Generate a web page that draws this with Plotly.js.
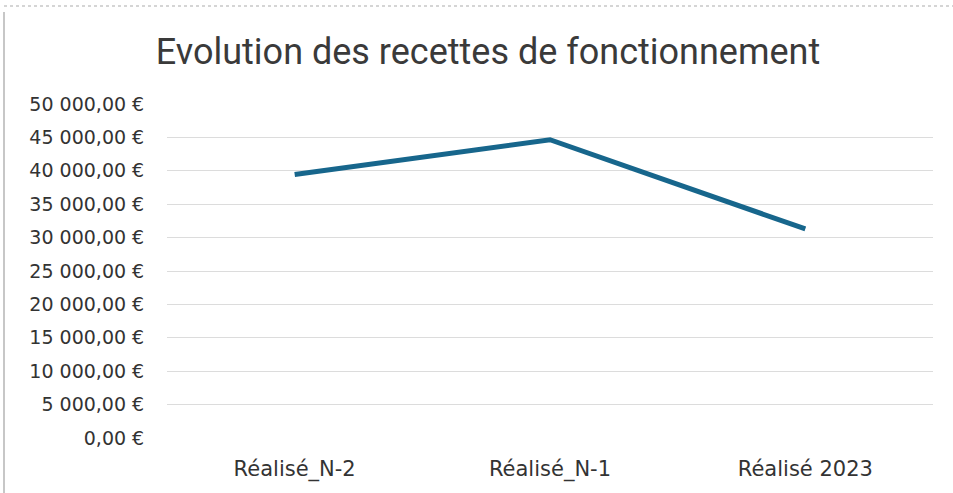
<!DOCTYPE html>
<html>
<head>
<meta charset="utf-8">
<script src="https://cdn.plot.ly/plotly-3.0.1.min.js"></script>
<style>html,body{margin:0;padding:0;background:#fff;}#chart{width:953px;height:493px;}</style>
</head>
<body>
<div id="chart"></div>
<script>
const categories = ["Réalisé_N-2", "Réalisé_N-1", "Réalisé 2023"];
const recettes = [39450, 44650, 31300];
const yTicks = [0, 5000, 10000, 15000, 20000, 25000, 30000, 35000, 40000, 45000, 50000];

function euro(v) {
  const s = String(Math.round(v)).replace(/\B(?=(\d{3})+(?!\d))/g, " ");
  return s + ",00 \u20AC";
}
const yTickText = yTicks.map(euro);

const trace = {
  x: categories,
  y: recettes,
  type: "scatter",
  mode: "lines",
  line: {color: "#17668c", width: 5},
  hoverinfo: "skip"
};

const layout = {
  width: 953,
  height: 493,
  margin: {l: 167, r: 20, t: 104, b: 55},
  paper_bgcolor: "#ffffff",
  plot_bgcolor: "#ffffff",
  showlegend: false,
  title: {
    text: "Evolution des recettes de fonctionnement",
    font: {family: "Roboto, Arial, sans-serif", size: 36, color: "#3a3a3a"},
    x: 488 / 953, xref: "container", xanchor: "center",
    y: 1 - 51 / 493, yref: "container", yanchor: "middle"
  },
  xaxis: {
    type: "category",
    range: [-0.5, 2.5],
    showgrid: false,
    zeroline: false,
    showline: false,
    ticks: "outside",
    ticklen: 12,
    tickcolor: "rgba(0,0,0,0)",
    tickfont: {family: "'DejaVu Sans', Arial, sans-serif", size: 21, color: "#333333"}
  },
  yaxis: {
    range: [0, 50000],
    tickvals: yTicks,
    ticktext: yTickText,
    showgrid: true,
    gridcolor: "#dcdcdc",
    gridwidth: 1,
    zeroline: false,
    showline: false,
    ticks: "outside",
    ticklen: 18,
    tickcolor: "rgba(0,0,0,0)",
    tickfont: {family: "'DejaVu Sans', Arial, sans-serif", size: 19, color: "#333333"}
  },
  shapes: [
    {type: "line", xref: "paper", yref: "paper", x0: (4-167)/766, x1: (4-167)/766, y0: -55/334, y1: (438-12)/334, line: {color: "#b5b5b5", width: 1.5}},
    {type: "line", xref: "paper", yref: "paper", x0: (4-167)/766, x1: (953-167)/766, y0: (438-6)/334, y1: (438-6)/334, line: {color: "#c8c8c8", width: 1.5, dash: "dot"}}
  ]
};

Plotly.newPlot("chart", [trace], layout, {staticPlot: true, displayModeBar: false});
</script>
</body>
</html>
